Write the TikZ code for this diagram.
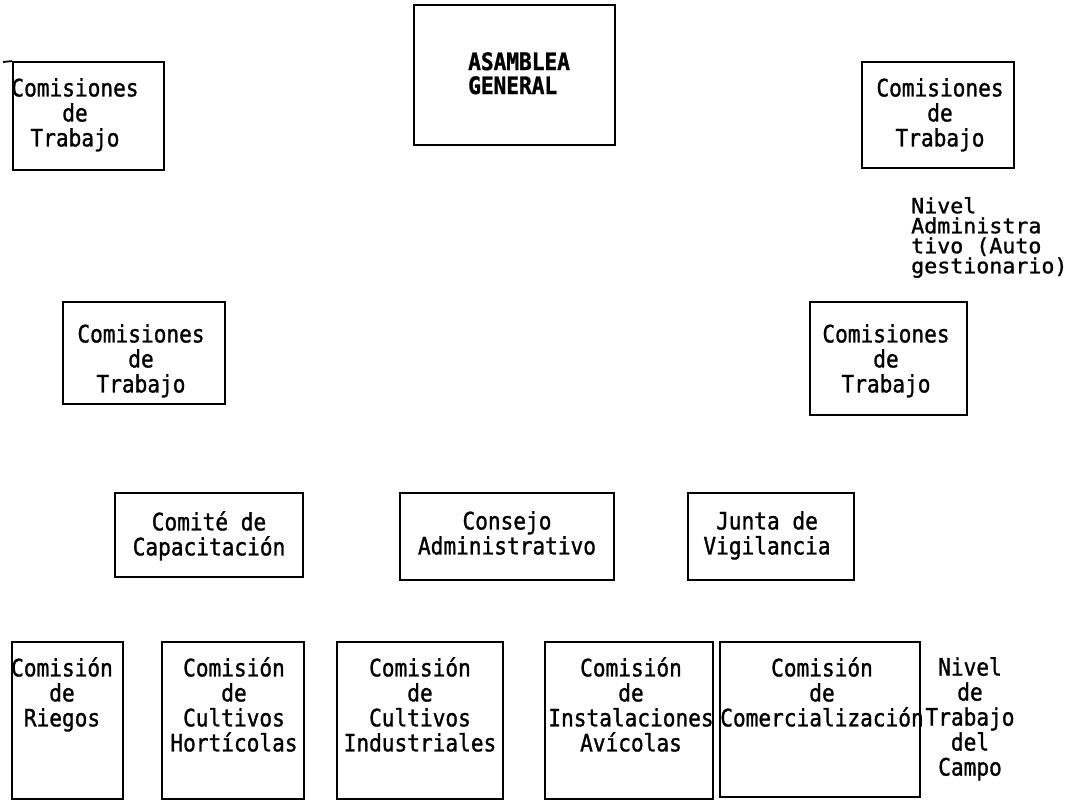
\documentclass[tikz,border=0pt]{standalone}
\usepackage{fontspec}
\newfontfamily\tw[FakeStretch=0.88,FakeBold=1.2]{DejaVu Sans Mono}
\newfontfamily\twn[FakeStretch=1.03,FakeBold=1.2]{DejaVu Sans Mono}
\newcommand\fixlines{\lineskiplimit=-100pt\relax}
\begin{document}
\begin{tikzpicture}[x=1pt,y=-1pt,
  bx/.style={draw, line width=1.8pt, inner sep=0pt, rectangle},
  txt/.style={font={\tw\fontsize{24}{25}\selectfont\fixlines}, align=center, inner sep=0pt, anchor=north},
  boldtxt/.style={font={\tw\bfseries\fontsize{24}{24}\selectfont\fixlines}, align=left, inner sep=0pt, anchor=north west},
  tight/.style={font={\twn\fontsize{21}{20}\selectfont\fixlines}, align=left, inner sep=0pt, anchor=north west}]
\useasboundingbox[fill=white] (0,0) rectangle (1083,802);

% boxes
\node[bx, minimum width=151pt, minimum height=108pt] (tlbox) at (88.5,116) {};
\node[bx, minimum width=201pt, minimum height=140pt] (asambox) at (514.5,75) {};
\node[bx, minimum width=152pt, minimum height=106pt] (trbox) at (938,115) {};
\node[bx, minimum width=162pt, minimum height=102pt] (lmbox) at (144,353) {};
\node[bx, minimum width=157pt, minimum height=113pt] (rmbox) at (888.5,358.5) {};
\node[bx, minimum width=188pt, minimum height=84pt] (combox) at (209,535) {};
\node[bx, minimum width=214pt, minimum height=87pt] (consbox) at (507,536.5) {};
\node[bx, minimum width=166pt, minimum height=87pt] (juntabox) at (771,536.5) {};
\node[bx, minimum width=111pt, minimum height=157pt] (riebox) at (67.5,720.5) {};
\node[bx, minimum width=142pt, minimum height=157pt] (horbox) at (233,720.5) {};
\node[bx, minimum width=166pt, minimum height=157pt] (indbox) at (420,720.5) {};
\node[bx, minimum width=168pt, minimum height=157pt] (avibox) at (629,720.5) {};
\node[bx, minimum width=200pt, minimum height=155pt] (comerbox) at (820,719.5) {};
\coordinate (tlover) at (3,62);
\draw[line width=1.8pt] (tlbox.north west) -- (tlover);

% texts
\node[txt] (tltxt) at (75,78) {Comisiones\\de\\Trabajo};
\node[boldtxt] (asamtxt) at (468,52) {ASAMBLEA\\GENERAL};
\node[txt] (trtxt) at (940,78) {Comisiones\\de\\Trabajo};
\node[tight] (niveltxt) at (911,197) {Nivel\\Administra\\tivo (Auto\\gestionario)};
\node[txt] (lmtxt) at (141,324) {Comisiones\\de\\Trabajo};
\node[txt] (rmtxt) at (886,324) {Comisiones\\de\\Trabajo};
\node[txt] (comtxt) at (209,511) {Comité de\\Capacitación};
\node[txt] (constxt) at (507,511) {Consejo\\Administrativo};
\node[txt] (juntatxt) at (767,511) {Junta de\\Vigilancia};
\node[txt] (rietxt) at (62,657) {Comisión\\de\\Riegos};
\node[txt] (hortxt) at (234,657) {Comisión\\de\\Cultivos\\Hortícolas};
\node[txt] (indtxt) at (420,657) {Comisión\\de\\Cultivos\\Industriales};
\node[txt] (avitxt) at (631,657) {Comisión\\de\\Instalaciones\\Avícolas};
\node[txt] (comertxt) at (822,657) {Comisión\\de\\Comercialización};
\node[txt] (campotxt) at (970,657) {Nivel\\de\\Trabajo\\del\\Campo};
\end{tikzpicture}
\end{document}
